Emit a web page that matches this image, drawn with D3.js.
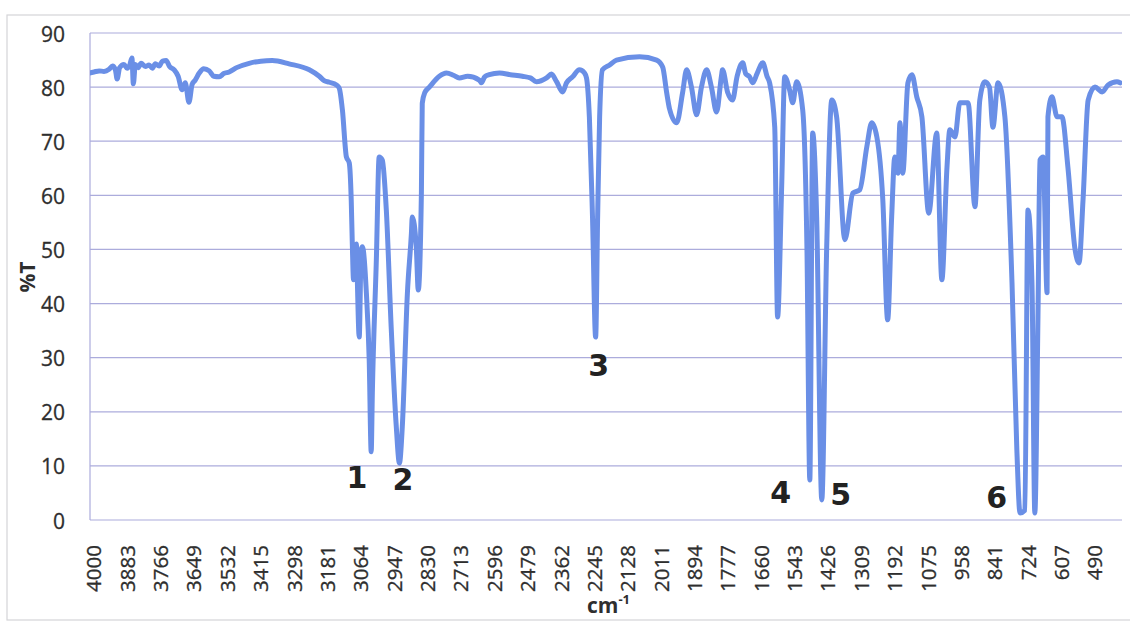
<!DOCTYPE html>
<html>
<head>
<meta charset="utf-8">
<script src="https://cdn.jsdelivr.net/npm/d3@7"></script>
<style>
  html, body { margin: 0; padding: 0; background: #fff; }
  svg { display: block; }
</style>
</head>
<body>
<div id="chart"></div>
<script>
// wavenumber (cm-1) and %T
const wavenumbers = [
  4017, 4000, 3982, 3965, 3947, 3935, 3925, 3919, 3910, 3895, 3884, 3875, 3867, 3862, 3855, 3845,
  3835, 3820, 3807, 3795, 3785, 3772, 3760, 3747, 3735, 3719, 3705, 3691, 3680, 3667, 3656, 3645,
  3631, 3615, 3596, 3580, 3561, 3545, 3526, 3500, 3456, 3415, 3375, 3316, 3245, 3210, 3193, 3175,
  3150, 3140, 3129, 3115, 3105, 3098, 3094, 3090, 3085, 3080, 3077, 3070, 3063, 3059, 3045, 3035,
  3028, 3024, 3010, 3000, 2989, 2975, 2958, 2940, 2929, 2919, 2901, 2887, 2884, 2870, 2863, 2852,
  2849, 2840, 2824, 2789, 2764, 2740, 2719, 2690, 2649, 2642, 2630, 2614, 2578, 2540, 2498, 2470,
  2449, 2413, 2396, 2378, 2357, 2343, 2322, 2298, 2280, 2273, 2263, 2252, 2241, 2234, 2227, 2217,
  2192, 2168, 2087, 2027, 2006, 1992, 1982, 1957, 1936, 1922, 1905, 1887, 1870, 1852, 1835, 1817,
  1800, 1796, 1778, 1761, 1745, 1725, 1715, 1701, 1690, 1675, 1655, 1640, 1631, 1613, 1603, 1589,
  1578, 1561, 1550, 1536, 1515, 1500, 1490, 1480, 1466, 1448, 1431, 1413, 1396, 1367, 1339, 1315,
  1290, 1273, 1255, 1234, 1217, 1203, 1192, 1181, 1174, 1164, 1146, 1132, 1115, 1097, 1073, 1045,
  1027, 1009, 999, 981, 964, 935, 911, 894, 876, 860, 848, 830, 806, 781, 764, 753,
  736, 725, 711, 701, 690, 683, 672, 658, 655, 641, 623, 606, 585, 560, 546, 532,
  514, 490, 465, 444, 413, 402
];
const transmittance = [
  82.6, 82.8, 83.0, 82.9, 83.3, 83.9, 83.2, 81.5, 83.6, 84.2, 83.5, 84.0, 85.4, 80.6, 84.2, 83.6,
  84.4, 83.8, 84.1, 83.5, 84.3, 83.9, 84.8, 84.9, 83.8, 83.2, 82.0, 79.5, 80.8, 77.2, 80.5, 81.3,
  82.6, 83.4, 83.0, 82.0, 81.9, 82.5, 82.8, 83.6, 84.4, 84.8, 84.9, 84.3, 83.2, 82.0, 81.2, 80.9,
  80.4, 79.8, 75.8, 67.1, 66.0, 59.1, 50.5, 44.4, 50.0, 51.0, 45.0, 33.8, 50.0, 50.5, 42.0, 29.6,
  12.6, 23.5, 48.0, 67.1, 66.5, 57.3, 35.7, 17.2, 10.5, 17.2, 42.0, 53.0, 56.0, 50.5, 42.5, 60.4,
  77.0, 79.0, 80.0, 82.0, 82.6, 82.2, 81.7, 82.0, 81.3, 80.8, 81.9, 82.3, 82.6, 82.3, 82.0, 81.7,
  81.0, 81.7, 82.4, 81.0, 79.1, 80.8, 81.9, 83.2, 82.6, 81.7, 74.5, 56.0, 33.8, 56.0, 74.5, 83.2,
  84.1, 85.0, 85.6, 85.0, 83.7, 79.0, 76.0, 73.4, 79.0, 83.2, 80.0, 74.9, 80.0, 83.2, 80.0, 75.4,
  82.0, 83.2, 79.0, 77.6, 82.0, 84.5, 82.5, 81.9, 80.8, 82.5, 84.5, 82.0, 80.8, 72.6, 37.5, 61.0,
  81.9, 79.5, 77.1, 81.0, 75.8, 50.0, 7.4, 71.5, 56.0, 3.7, 50.0, 77.6, 74.5, 51.8, 60.4, 61.0,
  69.0, 73.4, 70.8, 59.1, 37.0, 56.0, 67.1, 64.1, 73.4, 64.1, 80.8, 82.3, 78.2, 74.5, 56.7, 71.5,
  44.4, 65.2, 72.1, 70.8, 77.1, 77.1, 57.9, 77.6, 81.0, 80.0, 72.6, 80.8, 74.5, 43.8, 12.9, 1.3,
  1.8, 57.3, 43.8, 1.3, 37.5, 66.5, 67.1, 42.0, 74.5, 78.2, 74.5, 74.5, 65.2, 50.0, 47.5, 59.1,
  77.6, 80.0, 79.1, 80.4, 81.0, 80.8
];

const xTickValues = [4000, 3883, 3766, 3649, 3532, 3415, 3298, 3181, 3064, 2947, 2830, 2713, 2596,
  2479, 2362, 2245, 2128, 2011, 1894, 1777, 1660, 1543, 1426, 1309, 1192, 1075, 958, 841, 724, 607, 490];
const yTickValues = [0, 10, 20, 30, 40, 50, 60, 70, 80, 90];

// hand-written peak numbers: label, wavenumber, %T of the label centre
const peakLabels = ['1', '2', '3', '4', '5', '6'];
const peakWn     = [3078, 2917, 2230, 1592, 1382, 835];
const peakT      = [7.9, 7.6, 28.7, 5.2, 4.8, 4.3];

(function() {
  'use strict';

  const width = 1130,
        height = 623,
        plot = { left: 90, right: 1122, top: 33, bottom: 520 },
        gridColor = '#acacdc',
        lineColor = '#6a8fe6',
        textColor = '#2e2e2e',
        data = wavenumbers.map((wn, i) => ({ wn: wn, t: transmittance[i] }));

  const svg = d3.select('#chart')
    .append('svg')
    .attr('width', width)
    .attr('height', height);

  const x = d3.scaleLinear()
    .domain([4000, 490])
    .range([94, 1095]);

  const y = d3.scaleLinear()
    .domain([0, 90])
    .range([plot.bottom, plot.top]);

  // scan frame
  svg.append('rect')
    .attr('x', 7).attr('y', 15)
    .attr('width', 1130).attr('height', 605)
    .attr('fill', 'none')
    .attr('stroke', '#d4d4d8')
    .attr('stroke-width', 1.2);

  // horizontal gridlines
  svg.append('g')
    .selectAll('line')
    .data(yTickValues)
    .enter()
    .append('line')
      .attr('x1', plot.left)
      .attr('x2', plot.right)
      .attr('y1', d => y(d))
      .attr('y2', d => y(d))
      .attr('stroke', gridColor)
      .attr('stroke-width', 1.2);

  // vertical axis line
  svg.append('line')
    .attr('x1', plot.left).attr('x2', plot.left)
    .attr('y1', plot.top).attr('y2', plot.bottom)
    .attr('stroke', gridColor)
    .attr('stroke-width', 1.2);

  // y tick labels
  svg.append('g')
    .selectAll('text')
    .data(yTickValues)
    .enter()
    .append('text')
      .attr('x', 65)
      .attr('y', d => y(d) + 1)
      .attr('dy', '0.36em')
      .attr('text-anchor', 'end')
      .style('font-family', '"Open Sans", sans-serif')
      .style('font-size', '21px')
      .style('fill', textColor)
      .style('stroke', textColor)
      .style('stroke-width', 0.3)
      .text(d => d);

  // x tick labels, rotated
  svg.append('g')
    .selectAll('text')
    .data(xTickValues)
    .enter()
    .append('text')
      .attr('transform', d => `translate(${x(d)},545) rotate(-90)`)
      .attr('dy', '0.36em')
      .attr('text-anchor', 'end')
      .style('font-family', '"Open Sans", sans-serif')
      .style('font-size', '20.5px')
      .style('fill', textColor)
      .style('stroke', textColor)
      .style('stroke-width', 0.3)
      .text(d => d);

  // axis titles
  svg.append('text')
    .attr('transform', 'translate(27,277) rotate(-90)')
    .attr('dy', '0.36em')
    .attr('text-anchor', 'middle')
    .style('font-family', '"Open Sans", sans-serif')
    .style('font-size', '21px')
    .style('font-weight', 'bold')
    .style('fill', textColor)
    .text('%T');

  const xTitle = svg.append('text')
    .attr('x', 587)
    .attr('y', 613)
    .style('font-family', '"Open Sans", sans-serif')
    .style('font-size', '21px')
    .style('font-weight', 'bold')
    .style('fill', textColor);
  xTitle.append('tspan').text('cm');
  xTitle.append('tspan')
    .attr('dy', -9)
    .style('font-size', '13px')
    .text('-1');

  // spectrum
  svg.append('clipPath')
    .attr('id', 'plot-clip')
    .append('rect')
      .attr('x', plot.left).attr('y', 0)
      .attr('width', plot.right - plot.left).attr('height', height);

  const line = d3.line()
    .x(d => x(d.wn))
    .y(d => y(d.t))
    .curve(d3.curveMonotoneX);

  svg.append('path')
    .datum(data)
    .attr('clip-path', 'url(#plot-clip)')
    .attr('d', line)
    .attr('fill', 'none')
    .attr('stroke', lineColor)
    .attr('stroke-width', 5)
    .attr('stroke-linejoin', 'round')
    .attr('stroke-linecap', 'round');

  // hand-written peak numbers
  svg.append('g')
    .selectAll('text')
    .data(peakLabels)
    .enter()
    .append('text')
      .attr('x', (d, i) => x(peakWn[i]))
      .attr('y', (d, i) => y(peakT[i]))
      .attr('dy', '0.36em')
      .attr('text-anchor', 'middle')
      .style('font-family', '"DejaVu Sans", sans-serif')
      .style('font-size', '30px')
      .style('font-weight', 'bold')
      .style('fill', '#222')
      .text(d => d);
})();
</script>
</body>
</html>
